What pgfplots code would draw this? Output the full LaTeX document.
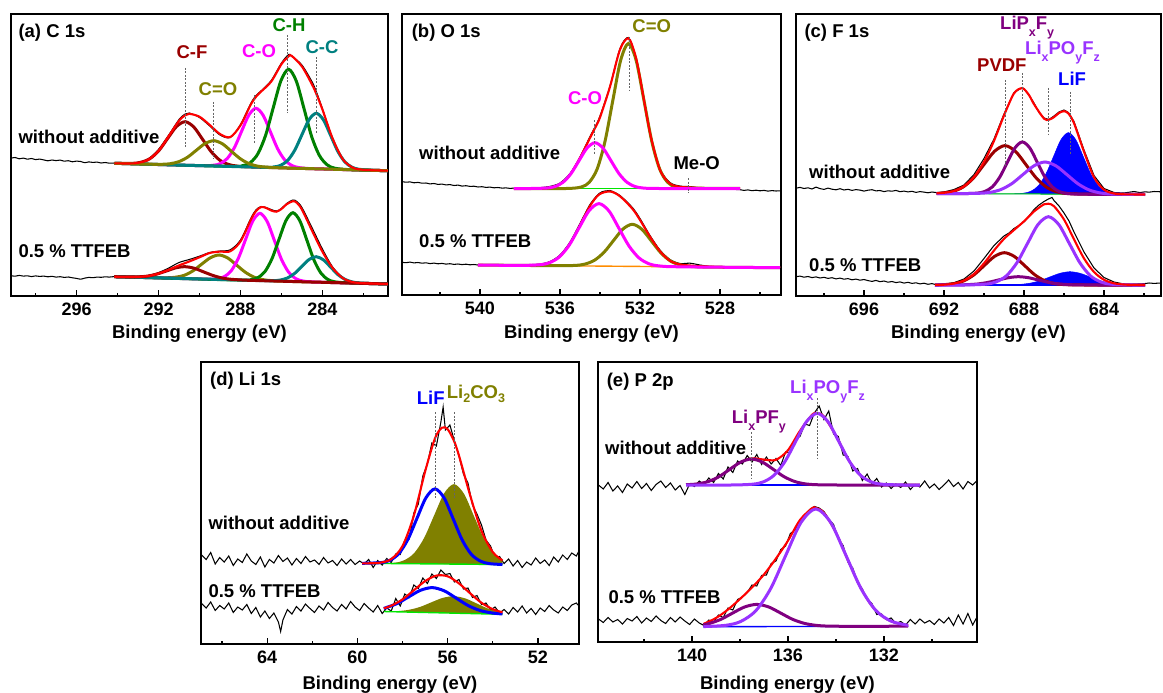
\documentclass[border=0pt]{standalone}
\usepackage{fontspec}
\setmainfont{Liberation Sans}
\usepackage{pgfplots}
\pgfplotsset{compat=1.18}
\definecolor{cDR}{RGB}{153,0,0}
\definecolor{cOl}{RGB}{128,128,0}
\definecolor{cMa}{RGB}{255,0,255}
\definecolor{cGr}{RGB}{0,128,0}
\definecolor{cTe}{RGB}{0,128,128}
\definecolor{cPu}{RGB}{128,0,128}
\definecolor{cVi}{RGB}{153,51,255}
\definecolor{cBl}{RGB}{0,0,255}
\definecolor{cOr}{RGB}{255,140,0}
\definecolor{cLi}{RGB}{0,230,0}
\newcommand\lf{\fontsize{18.5}{20}\selectfont\bfseries}
\newcommand\tf{\fontsize{18}{20}\selectfont\bfseries}
\newcommand\sub[2][-7pt]{\raisebox{#1}{\fontsize{12.5}{13}\selectfont\bfseries #2}}
\pgfplotsset{
  xps/.style={scale only axis, anchor=south west, x dir=reverse, ymin=0, ytick=\empty,
    tick align=inside, tick pos=left, axis line style={line width=1.5pt},
    tick style={black, line width=1.2pt}, major tick length=6pt, minor tick length=3.5pt,
    xticklabel style={font=\tf, yshift=-3pt}},
  raw/.style={black, line width=1.05pt, mark=none},
  fitl/.style={red, line width=2.1pt, mark=none, smooth},
  cmp/.style={line width=3pt, mark=none, smooth},
  dsh/.style={black!60, line width=0.7pt, dash pattern=on 2pt off 1.5pt, mark=none},
  bas/.style={line width=1.4pt, mark=none},
}
\begin{document}
\begin{tikzpicture}[x=1pt,y=1pt]
% ================= (a) C 1s =================
\begin{axis}[xps, at={(11pt,-296pt)}, width=377pt, height=282pt,
  xmin=280.8, xmax=299.2, ymax=282,
  xtick={284,288,292,296}, xticklabels={284,288,292,296}, minor xtick={282,286,290,294,298}]
\addplot[raw, smooth] coordinates {(299.2,137.8)(299.0,138.5)(298.8,137.2)(298.6,137.9)(298.4,136.8)(298.2,137.5)(298.0,136.4)(297.8,136.9)(297.6,136.1)(297.4,135.2)(297.2,136.0)(297.0,135.4)(296.8,135.9)(296.6,134.8)(296.4,135.3)(296.2,134.2)(296.0,134.9)(295.8,134.5)(295.6,133.3)(295.4,134.1)(295.2,133.6)(295.0,133.9)(294.8,133.0)(294.6,133.5)(294.4,132.8)(294.15,133.0)(293.5,132.9)(293.0,133.6)(292.5,137.0)(292.0,146.5)(291.5,161.0)(291.0,176.5)(290.7,182.0)(290.5,183.0)(290.0,178.5)(289.5,170.0)(289.0,161.0)(288.5,158.5)(288.0,171.5)(287.5,192.5)(287.24,200.5)(287.0,205.0)(286.5,215.5)(286.0,233.0)(285.65,241.5)(285.5,240.0)(285.0,231.0)(284.5,214.0)(284.3,204.5)(284.0,187.5)(283.5,157.0)(283.0,137.0)(282.5,128.8)(282.0,126.5)(281.5,125.5)(281.0,125.6)(280.8,125.2)};
\addplot[raw, smooth] coordinates {(299.2,20.3)(299.0,19.8)(298.8,20.6)(298.6,19.9)(298.4,20.2)(298.2,19.4)(298.0,20.1)(297.8,19.6)(297.6,19.9)(297.4,19.2)(297.2,19.7)(297.0,18.9)(296.8,19.3)(296.6,18.6)(296.4,19.0)(296.2,18.2)(296.0,17.6)(295.8,16.8)(295.6,17.9)(295.4,18.6)(295.2,18.3)(295.0,18.9)(294.8,18.7)(294.6,19.2)(294.4,18.9)(294.15,19.4)(293.5,19.3)(293.0,19.8)(292.5,20.6)(292.0,23.4)(291.5,28.0)(291.0,33.5)(290.5,36.5)(290.0,39.8)(289.5,43.5)(289.0,45.0)(288.5,46.2)(288.0,56.0)(287.5,77.5)(287.25,86.0)(287.0,89.5)(286.75,88.5)(286.5,86.5)(286.25,85.0)(286.0,87.5)(285.75,92.5)(285.44,96.0)(285.25,94.5)(285.0,88.5)(284.5,68.0)(284.0,47.0)(283.5,29.0)(283.0,18.5)(282.5,14.0)(282.0,12.8)(281.5,12.6)(280.8,12.2)};
% upper components
\addplot[cmp, cDR] coordinates {(294.15,132.7)(293.25,132.7)(292.825,133.9)(292.4,137.6)(291.975,145.6)(291.55,157.7)(291.125,169.4)(290.7,174.3)(290.275,168.9)(289.85,156.7)(289.425,144.2)(289.0,135.7)(288.575,131.5)(288.15,129.9)(287.3,128.9)(280.8,125.3)};
\addplot[cmp, cMa] coordinates {(294.15,132.7)(290.04,130.4)(289.34,130.7)(288.99,132.4)(288.64,137.6)(288.29,148.6)(287.94,165.0)(287.59,181.0)(287.24,187.7)(286.89,180.6)(286.54,164.2)(286.19,147.4)(285.84,136.1)(285.49,130.5)(285.14,128.4)(284.44,127.3)(280.8,125.3)};
\addplot[cmp, cGr] coordinates {(294.15,132.7)(288.65,129.7)(287.9,130.3)(287.525,133.3)(287.15,142.2)(286.775,160.6)(286.4,188.3)(286.025,215.3)(285.65,226.7)(285.275,214.9)(284.9,187.5)(284.525,159.4)(284.15,140.6)(283.775,131.3)(283.4,127.8)(282.65,126.3)(280.8,125.3)};
\addplot[cmp, cTe] coordinates {(294.15,132.7)(287.1,128.8)(286.4,129.0)(286.05,130.6)(285.7,135.5)(285.35,145.8)(285.0,161.3)(284.65,176.4)(284.3,182.7)(283.95,176.1)(283.6,160.6)(283.25,144.7)(282.9,134.0)(282.55,128.7)(282.2,126.7)(281.5,125.7)(280.8,125.3)};
\addplot[cmp, cOl] coordinates {(294.15,132.7)(292.7,131.9)(291.85,131.7)(291.425,132.3)(291.0,134.4)(290.575,138.9)(290.15,145.8)(289.725,152.5)(289.3,155.3)(288.875,152.1)(288.45,144.8)(288.025,137.5)(287.6,132.5)(287.175,129.9)(286.75,128.9)(285.9,128.1)(280.8,125.3)};
\addplot[fitl] coordinates {(294.15,132.7)(293.5,132.5)(293,133.1)(292.5,136.3)(292,145.1)(291.5,159.9)(291,175.2)(290.7,180.7)(290.5,182.2)(290,179.3)(289.5,171.0)(289,162.0)(288.5,158.9)(288,170.6)(287.5,191.3)(287.24,199.3)(287,204.3)(286.5,214.4)(286,231.8)(285.65,239.7)(285.5,240.1)(285,229.5)(284.5,211.2)(284.3,202.2)(284,186.5)(283.5,157.3)(283,136.6)(282.5,128.2)(282,126.2)(281.5,125.7)(280.8,125.3)};
% lower components
\addplot[cmp, cOl] coordinates {(294.15,19.3)(292.44,18.4)(291.59,18.2)(291.165,18.8)(290.74,20.7)(290.315,25.2)(289.89,31.9)(289.465,38.3)(289.04,41.0)(288.615,37.9)(288.19,30.9)(287.765,23.8)(287.34,18.9)(286.915,16.4)(286.49,15.4)(285.64,14.6)(280.8,12.0)};
\addplot[cmp, cMa] coordinates {(294.15,19.3)(289.85,17.0)(289.15,17.3)(288.8,19.3)(288.45,25.3)(288.1,37.9)(287.75,56.6)(287.4,75.0)(287.05,82.7)(286.7,74.6)(286.35,55.8)(286.0,36.7)(285.65,23.8)(285.3,17.4)(284.95,15.0)(284.25,13.9)(280.8,12.0)};
\addplot[cmp, cGr] coordinates {(294.15,19.3)(288.16,16.0)(287.48,16.4)(287.14,18.5)(286.8,24.6)(286.46,37.4)(286.12,56.6)(285.78,75.4)(285.44,83.3)(285.1,75.1)(284.76,55.9)(284.42,36.3)(284.08,23.1)(283.74,16.6)(283.4,14.2)(282.72,13.1)(280.8,12.0)};
\addplot[cmp, cTe] coordinates {(294.15,19.3)(287.1,15.5)(286.4,15.3)(286.05,16.0)(285.7,18.1)(285.35,22.7)(285.0,29.7)(284.65,36.5)(284.3,39.3)(283.95,36.1)(283.6,28.9)(283.25,21.5)(282.9,16.6)(282.55,14.1)(282.2,13.0)(281.5,12.4)(280.8,12.0)};
\addplot[cmp, cDR] coordinates {(294.15,19.3)(293.4,19.0)(292.95,19.2)(292.5,20.0)(292.05,22.1)(291.6,25.1)(291.15,28.2)(290.7,29.3)(290.25,27.7)(289.8,24.1)(289.35,20.6)(288.9,18.0)(288.45,16.7)(288.0,16.1)(287.1,15.4)(280.8,12.0)};
\addplot[fitl] coordinates {(294.15,19.3)(293.5,19.0)(293,19.1)(292.5,20.0)(292,22.4)(291.5,26.2)(291,30.6)(290.5,34.5)(290,38.7)(289.5,43.0)(289,44.4)(288.5,44.7)(288,54.5)(287.5,75.9)(287.25,84.8)(287,88.9)(286.75,88.1)(286.5,85.5)(286.25,84.3)(286,87.0)(285.75,91.7)(285.44,94.8)(285.25,93.2)(285,86.4)(284.5,65.0)(284,44.3)(283.5,27.9)(283,17.8)(282.5,13.8)(282,12.8)(281.5,12.4)(280.8,12.0)};
\addplot[dsh] coordinates {(290.7,228)(290.7,149)};
\addplot[dsh] coordinates {(289.3,194)(289.3,137)};
\addplot[dsh] coordinates {(287.3,201)(287.3,152)};
\addplot[dsh] coordinates {(285.7,261)(285.7,183)};
\addplot[dsh] coordinates {(284.3,239)(284.3,163)};
\end{axis}
% ================= (b) O 1s =================
\begin{axis}[xps, at={(402pt,-295pt)}, width=379pt, height=281pt,
  xmin=524.95, xmax=543.9, ymax=281,
  xtick={528,532,536,540}, xticklabels={528,532,536,540}, minor xtick={526,530,534,538,542}]
\addplot[raw, smooth] coordinates {(543.9,113.4)(543.7,112.8)(543.5,113.1)(543.3,112.2)(543.1,112.6)(542.9,111.8)(542.7,112.0)(542.5,111.1)(542.3,111.5)(542.1,110.6)(541.9,110.9)(541.7,110.1)(541.5,110.4)(541.3,109.5)(541.1,109.9)(540.9,108.9)(540.7,109.3)(540.5,108.6)(540.3,108.8)(540.1,108.0)(539.9,108.3)(539.7,107.6)(539.5,107.9)(539.3,107.2)(539.1,107.5)(538.9,106.9)(538.7,107.1)(538.5,106.6)(538.3,106.9)(538,106.8)(537.5,107.2)(537,107.4)(536.5,108.6)(536,112.0)(535.5,121.5)(535,138.0)(534.5,158.5)(534.25,168.0)(534,179.0)(533.5,209.0)(533,246.5)(532.58,257.5)(532.25,240.5)(532,218.5)(531.5,163.0)(531,126.5)(530.5,112.5)(530,109.0)(529.5,108.4)(529,107.2)(528.5,106.5)(528,106.2)(527.5,105.8)(527,105.3)(526.8,104.6)(526.6,105.1)(526.4,104.3)(526.2,104.8)(526,104.2)(525.8,104.6)(525.6,103.9)(525.4,104.4)(525.2,104.0)(524.95,104.3)};
\addplot[raw, smooth] coordinates {(543.9,32.7)(543.7,32.3)(543.5,32.9)(543.3,32.1)(543.1,32.5)(542.9,31.8)(542.7,32.2)(542.5,31.4)(542.3,31.9)(542.1,31.2)(541.9,31.6)(541.7,30.9)(541.5,31.3)(541.3,30.6)(541.1,31.0)(540.9,30.4)(540.7,30.8)(540.5,30.2)(540.3,30.5)(540.1,30.0)(539.5,30.2)(539,29.9)(538.5,30.3)(538,30.0)(537.5,30.4)(537,31.0)(536.5,33.5)(536,40.0)(535.5,53.0)(535,71.5)(534.5,90.5)(534.05,101.5)(533.75,104.0)(533.5,104.5)(533,99.5)(532.38,87.5)(532,76.5)(531.5,59.5)(531,45.0)(530.5,35.5)(530,31.5)(529.5,31.8)(529,30.0)(528.5,28.6)(528,28.2)(527.5,27.9)(527,27.8)(526.5,27.5)(526,27.6)(525.5,27.2)(524.95,27.4)};
\addplot[bas, cLi] coordinates {(538.3,106.5)(527,106.5)};
\addplot[cmp, cOl] coordinates {(538.3,106.5)(535.7,106.5)(534.92,108.1)(534.53,112.9)(534.14,126.1)(533.75,153.6)(533.36,194.4)(532.97,234.5)(532.58,251.5)(532.19,234.5)(531.8,194.4)(531.41,153.6)(531.02,126.1)(530.63,112.9)(530.24,108.1)(529.8,107.3)(529.0,106.8)(527.0,106.5)};
\addplot[fitl] coordinates {(538.3,106.5)(537.5,106.5)(537,106.6)(536.5,107.4)(536,110.7)(535.5,120.1)(535,137.2)(534.5,157.1)(534.25,166.9)(534,177.6)(533.5,208.3)(533,245.4)(532.58,256.7)(532.25,241.0)(532,217.4)(531.5,162.2)(531,125.1)(530.5,111.4)(530,108.2)(529.5,107.5)(529,107.0)(528,106.6)(527,106.5)};
\addplot[cmp, cMa] coordinates {(538.3,106.5)(537.45,106.5)(536.65,107.0)(536.25,108.5)(535.85,112.7)(535.45,121.4)(535.05,134.3)(534.65,146.9)(534.25,152.3)(533.85,146.9)(533.45,134.3)(533.05,121.4)(532.65,112.7)(532.25,108.5)(531.85,107.0)(531.05,106.5)(527.0,106.5)};
\addplot[bas, cOr] coordinates {(540.1,30.0)(525,27.3)};
\addplot[cmp, cOl] coordinates {(540.1,30.0)(536.18,29.3)(535.23,29.6)(534.755,30.9)(534.28,34.7)(533.805,42.6)(533.33,54.3)(532.855,65.9)(532.38,70.7)(531.905,65.7)(531.43,54.0)(530.955,42.1)(530.48,34.0)(530.005,30.1)(529.53,28.6)(528.58,27.9)(525,27.3)};
\addplot[fitl] coordinates {(540.1,30.0)(539,29.8)(538,29.7)(537.5,29.7)(537,30.3)(536.5,32.5)(536,38.6)(535.5,51.3)(535,69.8)(534.5,89.0)(534.05,100.4)(533.5,103.5)(533,98.7)(532.38,86.2)(532,75.0)(531.5,58.3)(531,43.7)(530.5,34.2)(530,30.5)(529.5,29.5)(529,28.8)(528,28.0)(527,27.7)(526,27.5)(525,27.3)};
\addplot[cmp, cMa] coordinates {(540.1,30.0)(538.05,29.6)(537.05,30.2)(536.55,32.1)(536.05,37.8)(535.55,49.5)(535.05,67.0)(534.55,84.2)(534.05,91.4)(533.55,84.0)(533.05,66.6)(532.55,49.0)(532.05,37.1)(531.55,31.2)(531.05,29.1)(530.05,28.2)(525,27.3)};
\addplot[dsh] coordinates {(532.53,258)(532.53,205)};
\addplot[dsh] coordinates {(534.3,175)(534.3,140)};
\addplot[dsh] coordinates {(529.6,117)(529.6,102)};
\end{axis}
% ================= (c) F 1s =================
\begin{axis}[xps, at={(796pt,-296pt)}, width=365pt, height=282pt,
  xmin=681.15, xmax=699.4, ymax=282,
  xtick={684,688,692,696}, xticklabels={684,688,692,696}, minor xtick={682,686,690,694,698}]
\addplot[raw] coordinates {(699.4,107.8)(699.2,108.6)(699.0,107.5)(698.8,108.2)(698.6,107.0)(698.4,108.9)(698.2,107.4)(698.0,106.6)(697.8,107.9)(697.6,106.8)(697.4,106.2)(697.2,107.3)(697.0,106.0)(696.8,106.7)(696.6,105.6)(696.4,106.4)(696.2,105.9)(696.0,104.9)(695.8,105.8)(695.6,106.3)(695.4,105.1)(695.2,105.5)(695.0,104.4)(694.8,105.2)(694.6,104.8)(694.4,105.6)(694.2,104.3)(694.0,104.9)(693.8,104.1)(693.6,104.7)(693.4,103.6)(693.2,104.4)(693.0,103.9)(692.8,103.2)(692.6,104.0)(692.37,103.4)(692,104.0)(691.5,106.5)(691,111.0)(690.5,121.5)(690,137.5)(689.5,157.0)(689,182.0)(688.5,203.5)(688.08,208.5)(687.75,201.0)(687.5,193.0)(687.25,183.5)(687,178.0)(686.75,176.5)(686.5,180.0)(686.25,184.0)(686,186.0)(685.78,183.5)(685.5,174.5)(685,146.0)(684.5,120.5)(684,107.5)(683.5,103.5)(683,103.0)(682.5,104.5)(682.2,103.4)(681.95,104.2)(681.75,103.8)(681.5,104.5)(681.15,104.2)};
\addplot[raw] coordinates {(699.4,19.3)(699.2,19.9)(699.0,18.8)(698.8,19.5)(698.6,18.4)(698.4,19.1)(698.2,18.0)(698.0,18.7)(697.8,17.6)(697.6,18.3)(697.4,17.1)(697.2,17.9)(697.0,16.8)(696.8,17.4)(696.6,16.2)(696.4,16.9)(696.2,15.8)(696.0,16.5)(695.8,15.4)(695.6,14.6)(695.4,15.6)(695.2,14.3)(695.0,15.0)(694.8,13.8)(694.6,14.5)(694.4,13.4)(694.2,14.1)(694.0,12.9)(693.8,13.7)(693.6,12.6)(693.4,13.2)(693.2,12.1)(693.0,12.8)(692.8,11.7)(692.6,12.4)(692.45,11.6)(692,12.0)(691.5,13.3)(691,17.0)(690.5,25.0)(690,37.5)(689.5,50.5)(689,60.0)(688.75,63.0)(688.5,67.5)(688.25,70.5)(688,74.0)(687.75,80.0)(687.5,86.5)(687.25,91.0)(687,94.5)(686.78,97.0)(686.6,98.5)(686.5,95.5)(686.25,90.0)(686,83.0)(685.75,75.0)(685.5,64.0)(685,44.0)(684.5,28.0)(684,18.5)(683.5,14.0)(683,12.0)(682.5,11.8)(682,12.3)(681.75,13.0)(681.5,12.6)(681.15,13.0)};
% upper
\addplot[fill=cBl, draw=cBl, line width=0.5pt, smooth] coordinates {(692.37,102.5)(688.78,102.2)(688.03,102.8)(687.655,104.8)(687.28,110.3)(686.905,122.0)(686.53,139.2)(686.155,156.2)(685.78,163.4)(685.405,156.1)(685.03,139.1)(684.655,121.8)(684.28,110.0)(683.905,104.4)(683.53,102.3)(682.78,101.6)(681.95,101.5)} -- cycle;
\addplot[bas, cLi, line width=1pt] coordinates {(692.37,102.5)(681.95,101.5)};
\addplot[cmp, cDR] coordinates {(692.37,102.5)(692.1,103.0)(691.575,104.5)(691.05,108.9)(690.525,118.0)(690.0,131.5)(689.475,144.7)(688.95,150.4)(688.425,144.6)(687.9,131.3)(687.375,117.7)(686.85,108.5)(686.325,104.0)(685.8,102.4)(684.75,101.8)(681.95,101.5)};
\addplot[cmp, cPu] coordinates {(692.37,102.5)(691.08,102.4)(690.33,102.9)(689.955,104.6)(689.58,109.2)(689.205,119.1)(688.83,133.7)(688.455,148.0)(688.08,154.1)(687.705,147.9)(687.33,133.5)(686.955,118.9)(686.58,108.9)(686.205,104.2)(685.83,102.5)(685.08,101.8)(681.95,101.5)};
\addplot[cmp, cVi] coordinates {(692.37,102.5)(691.35,102.4)(690.25,102.7)(689.7,103.6)(689.15,106.5)(688.6,112.5)(688.05,121.5)(687.5,130.2)(686.95,134.0)(686.4,130.1)(685.85,121.3)(685.3,112.2)(684.75,106.1)(684.2,103.1)(683.65,102.0)(682.55,101.6)(681.95,101.5)};
\addplot[fitl] coordinates {(692.37,102.7)(692,103.2)(691.5,104.9)(691,109.6)(690.5,119.0)(690,134.2)(689.5,155.1)(689,180.5)(688.5,202.6)(688.08,207.8)(687.75,200.9)(687.5,191.8)(687,177.4)(686.75,176.3)(686.5,178.9)(686.25,183.0)(686,184.8)(685.78,182.5)(685.5,172.8)(685,144.3)(684.5,118.7)(684,106.3)(683.5,102.5)(683,101.7)(682.5,101.55)(681.95,101.5)};
% lower
\addplot[fill=cBl, draw=cBl, line width=0.5pt, smooth] coordinates {(692.45,11)(689.7,11.0)(688.7,11.15)(688.2,11.6)(687.7,12.8)(687.2,15.3)(686.7,19.1)(686.2,22.7)(685.7,24.3)(685.2,22.7)(684.7,19.1)(684.2,15.3)(683.7,12.8)(683.2,11.6)(682.7,11.15)(681.95,11)} -- cycle;
\addplot[bas, cBl] coordinates {(692.45,11)(681.95,11)};
\addplot[cmp, cDR] coordinates {(692.45,11)(691.98,11.4)(691.48,12.4)(690.98,15.4)(690.48,21.5)(689.98,30.6)(689.48,39.5)(688.98,43.3)(688.48,39.5)(687.98,30.6)(687.48,21.5)(686.98,15.4)(686.48,12.4)(685.98,11.4)(684.98,11.0)(681.95,11)};
\addplot[cmp, cPu] coordinates {(692.45,11)(692.28,11.0)(691.28,11.1)(690.78,11.4)(690.28,12.1)(689.78,13.7)(689.28,16.0)(688.78,18.3)(688.28,19.3)(687.78,18.3)(687.28,16.0)(686.78,13.7)(686.28,12.1)(685.78,11.4)(685.28,11.1)(684.28,11.0)(681.95,11)};
\addplot[cmp, cVi] coordinates {(692.45,11)(690.98,11.0)(689.93,11.8)(689.405,14.0)(688.88,20.2)(688.355,33.2)(687.83,52.4)(687.305,71.3)(686.78,79.3)(686.255,71.3)(685.73,52.4)(685.205,33.2)(684.68,20.2)(684.155,14.0)(683.63,11.8)(682.58,11.0)(681.95,11)};
\addplot[fitl] coordinates {(692.45,11.1)(692,11.3)(691.5,12.4)(691,15.4)(690.5,22.0)(690,32.7)(689.5,45.5)(689,57.1)(688.5,66.0)(688,74.7)(687.5,84.5)(687,91.7)(686.78,92.3)(686.5,89.8)(686,76.5)(685.5,56.7)(685,37.6)(684.5,24.0)(684,16.2)(683.5,12.7)(683,11.45)(682.5,11.1)(681.95,11.0)};
\addplot[dsh] coordinates {(688.95,216)(688.95,129)};
\addplot[dsh] coordinates {(688.08,223)(688.08,156)};
\addplot[dsh] coordinates {(686.8,208)(686.8,161)};
\addplot[dsh] coordinates {(685.7,204)(685.7,141)};
\end{axis}
% ================= (d) Li 1s =================
\begin{axis}[xps, at={(201pt,-644pt)}, width=378pt, height=282pt,
  xmin=50.18, xmax=66.93, ymax=282,
  xtick={52,56,60,64}, xticklabels={52,56,60,64}, minor xtick={54,58,62,66}]
\addplot[raw] coordinates {(66.9,89.0)(66.7,84.5)(66.5,91.5)(66.3,80.0)(66.1,86.5)(65.9,82.0)(65.7,88.0)(65.5,78.5)(65.3,85.0)(65.1,81.5)(64.9,90.0)(64.7,83.0)(64.5,79.5)(64.3,87.0)(64.1,77.0)(63.9,84.5)(63.7,81.0)(63.5,88.5)(63.3,82.5)(63.1,86.0)(62.9,79.0)(62.7,85.5)(62.5,80.5)(62.3,87.5)(62.1,82.0)(61.9,84.0)(61.7,79.5)(61.5,86.5)(61.3,81.0)(61.1,83.5)(60.9,78.5)(60.7,85.0)(60.5,80.0)(60.3,84.5)(60.1,79.5)(59.9,83.0)(59.7,80.0)(59.5,84.5)(59.3,76.5)(59.1,83.5)(58.9,79.0)(58.7,85.5)(58.5,81.5)(58.3,90.0)(58.1,89.5)(57.9,103.5)(57.7,105.0)(57.5,131.0)(57.3,140.0)(57.1,168.0)(56.9,180.0)(56.7,201.0)(56.5,198.0)(56.3,222.0)(56.2,237.0)(56.1,214.0)(55.9,219.0)(55.7,203.0)(55.5,188.0)(55.3,170.0)(55.1,161.0)(54.9,139.0)(54.7,130.0)(54.5,119.0)(54.3,104.0)(54.1,98.0)(53.9,86.0)(53.7,87.5)(53.5,80.5)(53.3,85.0)(53.1,78.0)(52.9,83.5)(52.7,76.5)(52.5,82.0)(52.3,79.0)(52.1,86.0)(51.9,80.5)(51.7,84.0)(51.5,78.5)(51.3,87.0)(51.1,82.0)(50.9,89.0)(50.7,84.5)(50.5,91.0)(50.3,88.0)(50.18,93.0)};
\addplot[raw] coordinates {(66.9,40.5)(66.7,36.0)(66.5,42.0)(66.3,33.5)(66.1,38.5)(65.9,35.0)(65.7,41.0)(65.5,31.5)(65.3,37.0)(65.1,34.0)(64.9,39.5)(64.7,30.5)(64.5,36.5)(64.3,27.0)(64.1,33.0)(63.9,25.5)(63.7,31.0)(63.5,22.0)(63.4,12.5)(63.3,24.0)(63.1,34.5)(62.9,30.0)(62.7,37.5)(62.5,33.0)(62.3,40.0)(62.1,35.5)(61.9,31.5)(61.7,38.0)(61.5,34.0)(61.3,41.5)(61.1,36.5)(60.9,33.0)(60.7,39.5)(60.5,35.0)(60.3,42.5)(60.1,37.0)(59.9,33.5)(59.7,40.5)(59.5,36.0)(59.3,32.0)(59.1,38.5)(58.9,30.5)(58.7,36.0)(58.5,33.0)(58.3,45.5)(58.1,38.0)(57.9,50.0)(57.7,46.5)(57.5,59.0)(57.3,55.5)(57.1,66.0)(56.9,60.5)(56.7,70.0)(56.5,65.5)(56.3,74.0)(56.1,69.5)(55.9,70.5)(55.7,62.0)(55.5,64.5)(55.3,55.0)(55.1,56.0)(54.9,46.5)(54.7,48.5)(54.5,39.5)(54.3,41.0)(54.1,34.0)(53.9,37.0)(53.7,31.0)(53.5,34.5)(53.3,30.0)(53.1,36.5)(52.9,32.0)(52.7,38.0)(52.5,31.0)(52.3,35.5)(52.1,29.5)(51.9,36.0)(51.7,32.5)(51.5,38.5)(51.3,34.0)(51.1,31.0)(50.9,37.0)(50.7,33.5)(50.5,39.0)(50.3,41.0)(50.18,38.0)};
% upper
\addplot[fill=cOl, draw=none, smooth] coordinates {(59.79,80.7)(59.24,80.6)(58.36,81.3)(57.92,83.8)(57.48,91.0)(57.04,106.2)(56.6,128.6)(56.16,150.6)(55.72,159.9)(55.28,150.4)(54.84,128.2)(54.4,105.7)(53.96,90.4)(53.57,83.6)} -- (53.57,79.5) -- cycle;
\addplot[bas, cLi] coordinates {(59.79,80.7)(53.57,79.5)};
\addplot[cmp, cBl] coordinates {(59.79,80.7)(58.96,81.4)(58.56,83.7)(58.16,90.5)(57.76,104.7)(57.36,125.7)(56.96,146.3)(56.56,155.1)(56.16,146.2)(55.76,125.4)(55.36,104.2)(54.96,89.9)(54.56,83.0)(54.16,80.4)(53.57,79.5)};
\addplot[fitl] coordinates {(59.79,80.7)(59.5,80.7)(59,81.3)(58.5,84.9)(58,98.0)(57.5,128.2)(57,172.4)(56.56,205.8)(56.25,216.3)(56,214.8)(55.72,203.1)(55.5,188.6)(55,148.4)(54.5,113.0)(54,91.9)(53.57,83.6)};
% lower
\addplot[fill=cOl, draw=none, smooth] coordinates {(58.83,32.6)(58.22,32.9)(57.72,34.2)(57.22,37.1)(56.72,41.7)(56.22,46.1)(55.72,47.8)(55.22,45.6)(54.72,40.6)(54.22,35.5)(53.72,32.1)(53.57,31.4)} -- (53.57,29.7) -- cycle;
\addplot[bas, cLi] coordinates {(58.83,32.5)(53.57,29.7)};
\addplot[cmp, cBl] coordinates {(58.83,35.6)(58.255,40.3)(57.73,47.1)(57.205,53.7)(56.68,56.4)(56.155,53.2)(55.63,46.0)(55.105,38.6)(54.58,33.6)(54.055,31.1)(53.57,30.0)};
\addplot[fitl] coordinates {(58.83,35.7)(58.5,38.3)(58,44.6)(57.5,53.7)(57,62.9)(56.5,68.4)(56,67.7)(55.5,60.6)(55,50.6)(54.5,41.2)(54,34.8)(53.57,31.7)};
\addplot[dsh] coordinates {(56.56,232)(56.56,146)};
\addplot[dsh] coordinates {(55.72,232)(55.72,146)};
\end{axis}
% ================= (e) P 2p =================
\begin{axis}[xps, at={(598pt,-642pt)}, width=379pt, height=280pt,
  xmin=128.12, xmax=143.92, ymax=280,
  xtick={132,136,140}, xticklabels={132,136,140}, minor xtick={130,134,138,142}]
\addplot[raw] coordinates {(143.9,157.0)(143.7,153.0)(143.5,159.5)(143.3,151.0)(143.1,156.0)(142.9,149.5)(142.7,158.0)(142.5,154.0)(142.3,160.5)(142.1,153.5)(141.9,158.5)(141.7,151.5)(141.5,157.5)(141.3,161.0)(141.1,154.5)(140.9,159.0)(140.7,152.0)(140.5,156.5)(140.3,147.5)(140.1,158.0)(139.9,155.5)(139.7,161.0)(139.5,157.5)(139.3,164.0)(139.1,159.5)(138.9,168.5)(138.7,163.0)(138.5,175.0)(138.3,169.5)(138.1,181.0)(137.9,178.0)(137.7,186.5)(137.5,180.0)(137.3,187.5)(137.1,177.5)(136.9,185.0)(136.7,178.0)(136.5,183.5)(136.3,176.5)(136.1,190.0)(135.9,189.5)(135.7,203.0)(135.5,205.5)(135.3,218.0)(135.1,216.5)(134.9,229.0)(134.7,236.0)(134.5,222.5)(134.3,231.0)(134.1,208.0)(133.9,205.5)(133.7,187.0)(133.5,185.5)(133.3,171.0)(133.1,173.5)(132.9,161.5)(132.7,168.0)(132.5,158.5)(132.3,163.5)(132.1,155.0)(131.9,159.0)(131.7,153.5)(131.5,158.0)(131.3,154.5)(131.1,160.0)(130.9,152.5)(130.7,157.5)(130.5,155.0)(130.3,161.0)(130.1,154.0)(129.9,158.0)(129.7,152.5)(129.5,157.0)(129.3,162.0)(129.1,155.5)(128.9,159.5)(128.7,153.0)(128.5,160.5)(128.3,157.0)(128.12,161.5)};
\addplot[raw] coordinates {(143.9,23.0)(143.7,19.5)(143.5,24.5)(143.3,20.0)(143.1,22.5)(142.9,18.0)(142.7,23.5)(142.5,21.0)(142.3,25.5)(142.1,19.0)(141.9,24.0)(141.7,20.5)(141.5,26.0)(141.3,21.5)(141.1,18.5)(140.9,24.5)(140.7,20.0)(140.5,25.0)(140.3,21.0)(140.1,17.5)(139.9,23.0)(139.7,19.0)(139.5,16.5)(139.3,22.0)(139.1,19.5)(138.9,27.0)(138.7,24.5)(138.5,34.0)(138.3,32.0)(138.1,42.5)(137.9,45.0)(137.7,49.5)(137.5,57.0)(137.3,56.0)(137.1,66.5)(136.9,67.0)(136.7,78.5)(136.5,81.0)(136.3,92.5)(136.1,96.0)(135.9,108.5)(135.7,112.0)(135.5,121.5)(135.3,124.0)(135.1,132.5)(134.9,135.5)(134.7,134.0)(134.5,130.5)(134.3,123.0)(134.1,117.5)(133.9,103.0)(133.7,96.5)(133.5,80.0)(133.3,74.0)(133.1,59.5)(132.9,53.0)(132.7,42.5)(132.5,38.5)(132.3,27.5)(132.1,28.0)(131.9,22.5)(131.7,24.0)(131.5,18.5)(131.3,20.5)(131.1,17.0)(130.9,22.5)(130.7,18.0)(130.5,23.0)(130.3,19.0)(130.1,21.5)(129.9,17.5)(129.7,23.0)(129.5,19.0)(129.3,24.5)(129.1,16.5)(128.9,27.0)(128.7,18.0)(128.5,28.5)(128.3,17.0)(128.12,25.0)};
% upper
\addplot[bas, cBl] coordinates {(140.25,157)(130.5,157)};
\addplot[fitl] coordinates {(140.25,157.3)(140,157.6)(139.5,159.3)(139,163.7)(138.5,171.4)(138,179.6)(137.5,183.7)(137,182.4)(136.5,182.2)(136,191.8)(135.5,211.2)(135,227.1)(134.78,229.0)(134.5,225.4)(134,206.2)(133.5,183.1)(133,167.1)(132.5,159.9)(132,157.6)(131.5,157.1)(130.5,157.0)};
\addplot[cmp, cPu] coordinates {(140.25,157.3)(139.77,158.1)(139.32,160.5)(138.87,165.4)(138.42,172.8)(137.97,179.9)(137.52,183.0)(137.07,179.9)(136.62,172.8)(136.17,165.4)(135.72,160.5)(135.27,158.1)(134.82,157.3)(133.92,157.0)(130.5,157.0)};
\addplot[cmp, cVi] coordinates {(140.25,157.0)(138.38,157.0)(137.48,157.8)(137.03,160.1)(136.58,166.7)(136.13,180.3)(135.68,200.5)(135.23,220.3)(134.78,228.7)(134.33,220.3)(133.88,200.5)(133.43,180.3)(132.98,166.7)(132.53,160.1)(132.08,157.8)(131.18,157.0)(130.5,157.0)};
% lower
\addplot[bas, cBl] coordinates {(139.53,15.3)(130.99,15.8)};
\addplot[fitl] coordinates {(139.53,18.0)(139,24.0)(138.5,32.5)(138,43.0)(137.5,54.5)(137,67.5)(136.5,83.5)(136,101.3)(135.5,122.0)(135,133.7)(134.84,134.1)(134.5,129.2)(134,109.4)(133.5,81.8)(133,55.5)(132.5,36.1)(132,24.6)(131.5,19.1)(130.99,16.8)};
\addplot[cmp, cPu] coordinates {(139.53,17.2)(139.31,18.3)(138.81,22.5)(138.31,28.9)(137.81,35.0)(137.31,37.6)(136.81,35.1)(136.31,29.0)(135.81,22.7)(135.31,18.6)(134.81,16.6)(134.31,15.9)(133.31,15.7)(130.99,15.8)};
\addplot[cmp, cVi] coordinates {(139.53,15.4)(138.59,16.7)(137.965,20.6)(137.34,31.3)(136.715,53.7)(136.09,86.8)(135.465,119.2)(134.84,133.1)(134.215,119.3)(133.59,87.0)(132.965,53.9)(132.34,31.6)(131.715,21.0)(131.09,17.1)(130.99,16.9)};
\addplot[dsh] coordinates {(137.52,210)(137.52,164)};
\addplot[dsh] coordinates {(134.78,244)(134.78,184)};
\end{axis}
% ================= texts =================
% (a)
\node[anchor=base west, font=\lf] at (15,-37.5) {(a) C 1s};
\node[anchor=west, font=\lf] at (15,-137) {without additive};
\node[anchor=west, font=\lf] at (15,-251) {0.5 \% TTFEB};
\node[font=\lf, text=cDR] at (192,-52) {C-F};
\node[font=\lf, text=cOl] at (218,-89) {C=O};
\node[font=\lf, text=cMa] at (259,-51) {C-O};
\node[font=\lf, text=cGr] at (289,-25) {C-H};
\node[font=\lf, text=cTe] at (322,-47) {C-C};
\node[font=\lf] at (199.5,-334) {Binding energy (eV)};
% (b)
\node[anchor=base west, font=\lf] at (408.3,-37.5) {(b) O 1s};
\node[anchor=west, font=\lf] at (415.7,-152.7) {without additive};
\node[anchor=west, font=\lf] at (415.7,-240.7) {0.5 \% TTFEB};
\node[font=\lf, text=cOl] at (651.7,-26) {C=O};
\node[font=\lf, text=cMa] at (585,-98) {C-O};
\node[font=\lf] at (696.7,-162.7) {Me-O};
\node[font=\lf] at (591.5,-334) {Binding energy (eV)};
% (c)
\node[anchor=base west, font=\lf] at (801,-37.5) {(c) F 1s};
\node[anchor=west, font=\lf] at (805.7,-171.7) {without additive};
\node[anchor=west, font=\lf] at (805.7,-265) {0.5 \% TTFEB};
\node[anchor=base west, font=\lf, text=cDR, inner sep=0pt] at (977,-71.6) {PVDF};
\node[anchor=base west, font=\lf, text=cPu, inner sep=0pt] at (1000,-30) {LiP\sub{x}F\sub{y}};
\node[anchor=base west, font=\lf, text=cVi, inner sep=0pt] at (1025,-55) {Li\sub{x}PO\sub{y}F\sub{z}};
\node[anchor=base west, font=\lf, text=cBl, inner sep=0pt] at (1058,-85) {LiF};
\node[font=\lf] at (978.5,-334) {Binding energy (eV)};
% (d)
\node[anchor=base west, font=\lf] at (206.7,-385) {(d) Li 1s};
\node[anchor=west, font=\lf] at (205,-523.3) {without additive};
\node[anchor=west, font=\lf] at (205,-591) {0.5 \% TTFEB};
\node[anchor=base west, font=\lf, text=cBl, inner sep=0pt] at (416.7,-404) {LiF};
\node[anchor=base west, font=\lf, text=cOl, inner sep=0pt] at (446.7,-398.3) {Li\sub[-4pt]{2}CO\sub[-4pt]{3}};
\node[font=\lf] at (390,-685) {Binding energy (eV)};
% (e)
\node[anchor=base west, font=\lf] at (603.3,-386.5) {(e) P 2p};
\node[anchor=west, font=\lf] at (601.7,-448.3) {without additive};
\node[anchor=west, font=\lf] at (605,-596.7) {0.5 \% TTFEB};
\node[anchor=base west, font=\lf, text=cVi, inner sep=0pt] at (790,-393.3) {Li\sub{x}PO\sub{y}F\sub{z}};
\node[anchor=base west, font=\lf, text=cPu, inner sep=0pt] at (731.7,-423.3) {Li\sub{x}PF\sub{y}};
\node[font=\lf] at (787.5,-685) {Binding energy (eV)};
\pgfresetboundingbox
\path[use as bounding box] (0,0) rectangle (1163,-693);
\end{tikzpicture}
\end{document}
